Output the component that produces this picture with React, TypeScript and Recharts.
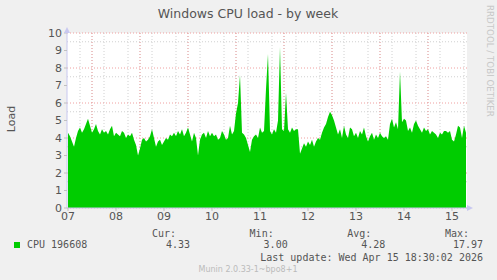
import React from 'react';
import { AreaChart, Area, XAxis, YAxis, CartesianGrid } from 'recharts';

// hourly load samples, starting Tue 07 00:00
const cpuLoad = [
  4.3, 4.1, 3.8, 3.5, 4.0, 4.4, 4.6, 4.3, 4.5, 4.8, 5.1, 4.7,
  4.3, 4.5, 4.8, 4.4, 4.2, 4.5, 4.3, 4.4, 4.2, 4.5, 4.7, 4.1,
  4.3, 4.2, 4.1, 4.4, 4.3, 4.0, 4.2, 4.1, 4.3, 3.9, 3.6, 3.0,
  3.4, 3.9, 4.0, 3.8, 3.9, 4.1, 4.5, 4.0, 3.5, 3.8, 3.9, 3.6,
  3.8, 4.0, 3.9, 4.2, 4.1, 4.3, 4.1, 4.4, 4.2, 4.5, 4.1, 4.3,
  4.6, 4.2, 3.8, 4.3, 4.0, 3.0, 3.9, 4.2, 4.3, 4.0, 4.4, 4.1,
  4.3, 4.1, 4.2, 3.9, 4.0, 4.4, 4.2, 3.9, 4.0, 4.7, 4.2, 4.4,
  5.4, 6.0, 7.6, 4.3, 4.2, 4.0, 3.6, 3.2, 3.9, 4.1, 4.2, 4.0,
  4.6, 4.3, 4.4, 6.8, 8.8, 4.4, 4.2, 4.5, 4.3, 5.0, 9.2, 4.5,
  4.4, 6.6, 4.5, 4.3, 4.6, 4.4, 4.5, 4.5, 3.1, 3.4, 3.7, 3.5,
  3.8, 3.6, 3.9, 3.5, 3.8, 4.0, 3.9, 4.3, 4.6, 4.8, 5.2, 5.5,
  5.3, 5.0, 4.6, 4.2, 4.5, 4.0, 4.7, 4.2, 4.0, 4.6, 4.5, 4.1,
  4.3, 4.0, 4.4, 4.2, 4.6, 4.1, 3.8, 4.1, 4.3, 3.9, 4.2, 4.0,
  4.3, 4.1, 4.0, 4.1, 3.9, 4.8, 5.1, 4.6, 4.9, 4.5, 7.8, 4.9,
  5.1, 5.0, 4.4, 4.6, 4.3, 4.8, 5.0, 4.7, 4.5, 4.3, 4.6, 4.4,
  4.5, 4.2, 4.4, 4.3, 4.2, 4.0, 4.3, 4.2, 4.4, 4.4, 4.3, 4.4,
  3.9, 3.8, 4.2, 4.7, 4.6, 4.0, 4.7, 4.3,
];

const dayTicks = [0, 24, 48, 72, 96, 120, 144, 168, 192];
const dayLabels = ['07', '08', '09', '10', '11', '12', '13', '14', '15'];
const loadTicks = [0, 1, 2, 3, 4, 5, 6, 7, 8, 9, 10];
const minorLoadGrid = [0.5, 1.5, 2.5, 3.5, 4.5, 5.5, 6.5, 7.5, 8.5, 9.5];
const sixHourGrid = Array.from({ length: 34 }, (_, i) => i * 6);
const noonGrid = [12, 36, 60, 84, 108, 132, 156, 180];

const legendStats = [
  { label: 'Cur:', value: '4.33' },
  { label: 'Min:', value: '3.00' },
  { label: 'Avg:', value: '4.28' },
  { label: 'Max:', value: '17.97' },
];

const data = cpuLoad.map((load, h) => ({ h, load }));

const axisFont = { fill: '#555', fontSize: 11, fontFamily: 'DejaVu Sans' };
const mono = 'DejaVu Sans Mono';

export default function App() {
  return (
    <div style={{ position: 'absolute', left: 0, top: 0, width: 497, height: 280, background: '#f0f0f0' }}>
      <AreaChart width={497} height={280} data={data} margin={{ top: 33, right: 30, bottom: 52, left: 37 }}>
        <CartesianGrid
          fill="#fff"
          stroke="#d0d0d0"
          strokeDasharray="1 2"
          horizontalValues={minorLoadGrid}
          verticalValues={sixHourGrid}
        />
        <CartesianGrid
          stroke="#f0a0a0"
          strokeDasharray="1 2"
          horizontalValues={loadTicks}
          verticalValues={noonGrid}
        />
        <XAxis
          type="number"
          dataKey="h"
          domain={[-0.5, 199.5]}
          ticks={dayTicks}
          tickFormatter={(v: number) => dayLabels[dayTicks.indexOf(v)]}
          allowDataOverflow
          height={20}
          tick={axisFont}
          tickSize={3}
          tickMargin={1}
          stroke="#c8c8f0"
          tickLine={{ stroke: '#c0c0c0' }}
        />
        <YAxis
          type="number"
          domain={[0, 10]}
          ticks={loadTicks}
          allowDataOverflow
          width={30}
          tick={axisFont}
          tickSize={3}
          tickMargin={2}
          stroke="#c8c8f0"
          tickLine={{ stroke: '#c0c0c0' }}
        />
        <Area
          type="linear"
          dataKey="load"
          stroke="none"
          fill="#00cc00"
          fillOpacity={1}
          isAnimationActive={false}
        />
      </AreaChart>
      <svg width={497} height={280} style={{ position: 'absolute', left: 0, top: 0, pointerEvents: 'none' }}>
        <text x={248} y={18} textAnchor="middle" fontFamily="DejaVu Sans" fontSize={12.5} fill="#555">
          Windows CPU load - by week
        </text>
        <text
          x={0}
          y={0}
          transform="translate(15 119) rotate(-90)"
          textAnchor="middle"
          fontFamily="DejaVu Sans"
          fontSize={11}
          fill="#555"
        >
          Load
        </text>
        <text
          x={0}
          y={0}
          transform="translate(486.5 5) rotate(90)"
          fontFamily="DejaVu Sans"
          fontSize={8.7}
          fill="#c8c8c8"
        >
          RRDTOOL / TOBI OETIKER
        </text>
        <polygon points="64,33 70,33 67,27" fill="#c8c8f0" />
        <polygon points="467,205 467,211 473,208" fill="#c8c8f0" />
        <rect x={14} y={242} width={6} height={6} fill="#00cc00" />
        <text x={27} y={248} fontFamily={mono} fontSize={10} fill="#555">CPU 196608</text>
        {legendStats.map((s, i) => (
          <g key={s.label}>
            <text x={176 + i * 97.7} y={237} textAnchor="end" fontFamily={mono} fontSize={10} fill="#555">
              {s.label}
            </text>
            <text x={190 + i * 97.7} y={248} textAnchor="end" fontFamily={mono} fontSize={10} fill="#555">
              {s.value}
            </text>
          </g>
        ))}
        <text x={483} y={261} textAnchor="end" fontFamily={mono} fontSize={10} fill="#555">
          Last update: Wed Apr 15 18:30:02 2026
        </text>
        <text x={248} y={272} textAnchor="middle" fontFamily="DejaVu Sans" fontSize={8} fill="#bbb">
          Munin 2.0.33-1~bpo8+1
        </text>
      </svg>
    </div>
  );
}
